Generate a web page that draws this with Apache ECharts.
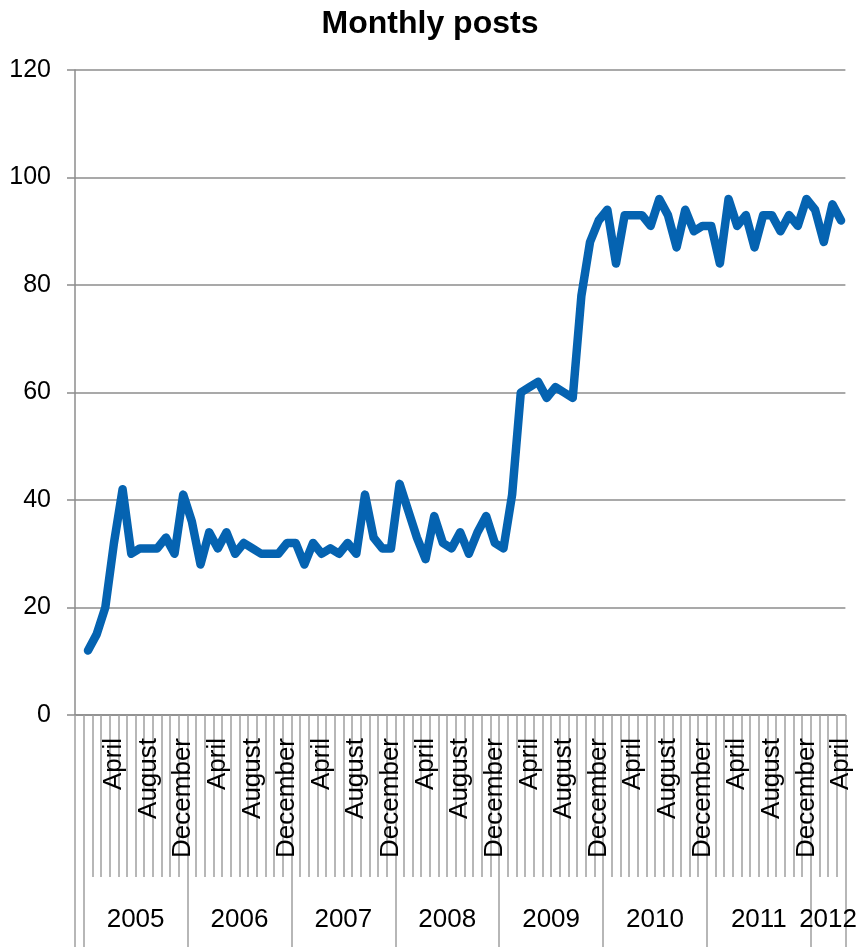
<!DOCTYPE html>
<html>
<head>
<meta charset="utf-8">
<script src="https://cdn.jsdelivr.net/npm/echarts@6/dist/echarts.min.js"></script>
<style>
html,body{margin:0;padding:0;background:#fff;}
#chart{width:860px;height:947px;}
</style>
</head>
<body>
<div id="chart"></div>
<script>
// ---- data ----
const monthNames = ['January','February','March','April','May','June','July','August','September','October','November','December'];
const years = ['2005','2006','2007','2008','2009','2010','2011','2012'];
const monthsInYear = [12,12,12,12,12,12,12,4];
const posts = [
  12,15,20,32,42,30,31,31,31,33,30,41,
  36,28,34,31,34,30,32,31,30,30,30,32,
  32,28,32,30,31,30,32,30,41,33,31,31,
  43,38,33,29,37,32,31,34,30,34,37,32,
  31,41,60,61,62,59,61,60,59,78,88,92,
  94,84,93,93,93,91,96,93,87,94,90,91,
  91,84,96,91,93,87,93,93,90,93,91,96,
  94,88,95,92
];
const yTicks = [0,20,40,60,80,100,120];

// ---- build axis categories ----
const monthCats = [''];           // leading blank category (as in the source chart)
years.forEach((y, k) => {
  for (let m = 0; m < monthsInYear[k]; m++) monthCats.push(monthNames[m]);
});
const seriesData = [null].concat(posts);

// year axis: half-month points (boundaryGap false)
const nHalf = monthCats.length * 2 + 1;
const yearCats = new Array(nHalf).fill('');
const yearBounds = new Set([0]);
let start = 1; // month index where the year starts
years.forEach((y, k) => {
  const s = start * 2, e = (start + monthsInYear[k]) * 2;
  yearBounds.add(s); yearBounds.add(e);
  yearCats[(s + e) / 2] = y;
  start += monthsInYear[k];
});
yearBounds.add(nHalf - 1);

const FONT = 'Liberation Sans, Arial, sans-serif';
const GRAY = '#8c8c8c';

const chart = echarts.init(document.getElementById('chart'));
chart.setOption({
  animation: false,
  backgroundColor: '#fff',
  title: {
    text: 'Monthly posts',
    left: 'center',
    top: 3,
    textStyle: {fontFamily: FONT, fontSize: 32, fontWeight: 'bold', color: '#000'}
  },
  grid: {left: 75, right: 13, top: 70, bottom: 232, containLabel: false},
  xAxis: [
    {
      type: 'category',
      data: monthCats,
      boundaryGap: true,
      axisLine: {show: true, lineStyle: {color: GRAY, width: 1.5}},
      axisTick: {show: true, interval: 0, length: 162, lineStyle: {color: '#a0a0a0', width: 1.5}},
      axisLabel: {interval: 3, rotate: 90, margin: 23, fontFamily: FONT, fontSize: 26, color: '#000'},
      splitLine: {show: false}
    },
    {
      type: 'category',
      data: yearCats,
      boundaryGap: false,
      position: 'bottom',
      offset: 162,
      axisLine: {show: false},
      axisTick: {show: true, length: 80, interval: (i) => yearBounds.has(i), lineStyle: {color: '#a0a0a0', width: 1.5}},
      axisLabel: {interval: 0, margin: 30, fontFamily: FONT, fontSize: 26, color: '#000'},
      splitLine: {show: false}
    }
  ],
  yAxis: {
    type: 'value',
    min: yTicks[0],
    max: yTicks[yTicks.length - 1],
    interval: yTicks[1] - yTicks[0],
    axisLine: {show: true, lineStyle: {color: GRAY, width: 1.5}},
    axisTick: {show: true, length: 8, lineStyle: {color: GRAY, width: 1.5}},
    axisLabel: {margin: 24, fontFamily: FONT, fontSize: 25, color: '#000'},
    splitLine: {show: true, lineStyle: {color: GRAY, width: 1.5}}
  },
  series: [{
    type: 'line',
    data: seriesData,
    xAxisIndex: 0,
    showSymbol: false,
    symbol: 'none',
    lineStyle: {color: '#0563B1', width: 8.5, cap: 'round', join: 'round'},
    connectNulls: false
  }]
});
</script>
</body>
</html>
